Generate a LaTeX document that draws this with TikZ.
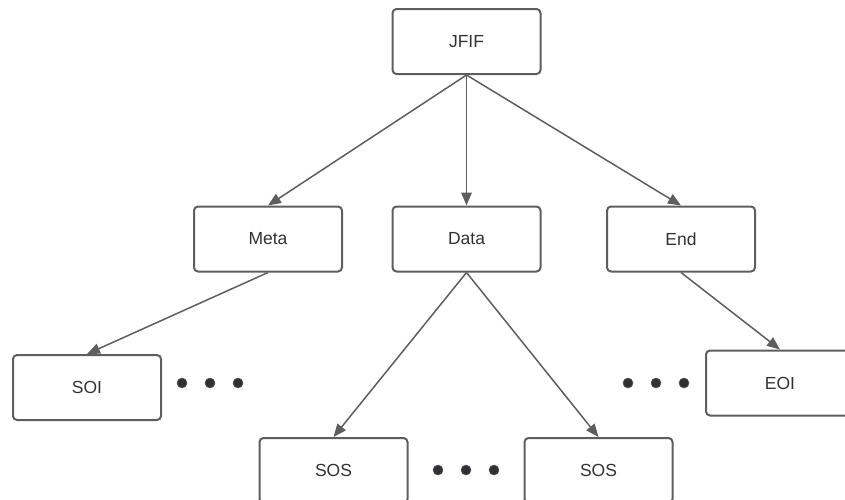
\documentclass[tikz,border=0pt]{standalone}
\usepackage{fontspec}
\setmainfont{Liberation Sans}
\usetikzlibrary{arrows.meta}
\definecolor{edgegray}{HTML}{5E5E5E}
\definecolor{txtgray}{HTML}{333333}
\definecolor{dotgray}{HTML}{2E3136}
\begin{document}
\begin{tikzpicture}[x=1pt,y=-1pt,
  blk/.style={draw=edgegray, line width=2pt, rounded corners=4pt, fill=white,
    minimum width=148pt, minimum height=65pt, inner sep=0pt,
    font=\fontsize{17.5}{20}\selectfont, text=txtgray},
  link/.style={draw=edgegray, line width=1.5pt,
    -{Triangle[length=13pt,width=10.5pt]}},
  dot/.style={circle, fill=dotgray, draw=edgegray, line width=0.6pt,
    minimum size=10pt, inner sep=0pt}]
\useasboundingbox (0,0) rectangle (845,499);
% blocks
\node[blk] (jfif) at (466.5,41.5) {JFIF};
\node[blk] (meta) at (268,239) {Meta};
\node[blk] (data) at (466.5,239) {Data};
\node[blk] (end)  at (681,239) {End};
\node[blk] (soi)  at (87,387.5) {SOI};
\node[blk] (eoi)  at (780,383) {EOI};
\node[blk] (sosa) at (333.5,470.5) {SOS};
\node[blk] (sosb) at (598.5,470.5) {SOS};
% connectors
\draw[link] (jfif.south) -- (meta.north);
\draw[link] (jfif.south) -- (data.north);
\draw[link] (jfif.south) -- (end.north);
\draw[link] (meta.south) -- (soi.north);
\draw[link] (data.south) -- (sosa.north);
\draw[link] (data.south) -- (sosb.north);
\draw[link] (end.south) -- (eoi.north);
% ellipsis dots
\node[dot] (d1) at (182,383) {};
\node[dot] (d2) at (210,383) {};
\node[dot] (d3) at (238,383) {};
\node[dot] (d4) at (628,383) {};
\node[dot] (d5) at (656,383) {};
\node[dot] (d6) at (684,383) {};
\node[dot] (d7) at (438,470) {};
\node[dot] (d8) at (466,470) {};
\node[dot] (d9) at (494,470) {};
\end{tikzpicture}
\end{document}
